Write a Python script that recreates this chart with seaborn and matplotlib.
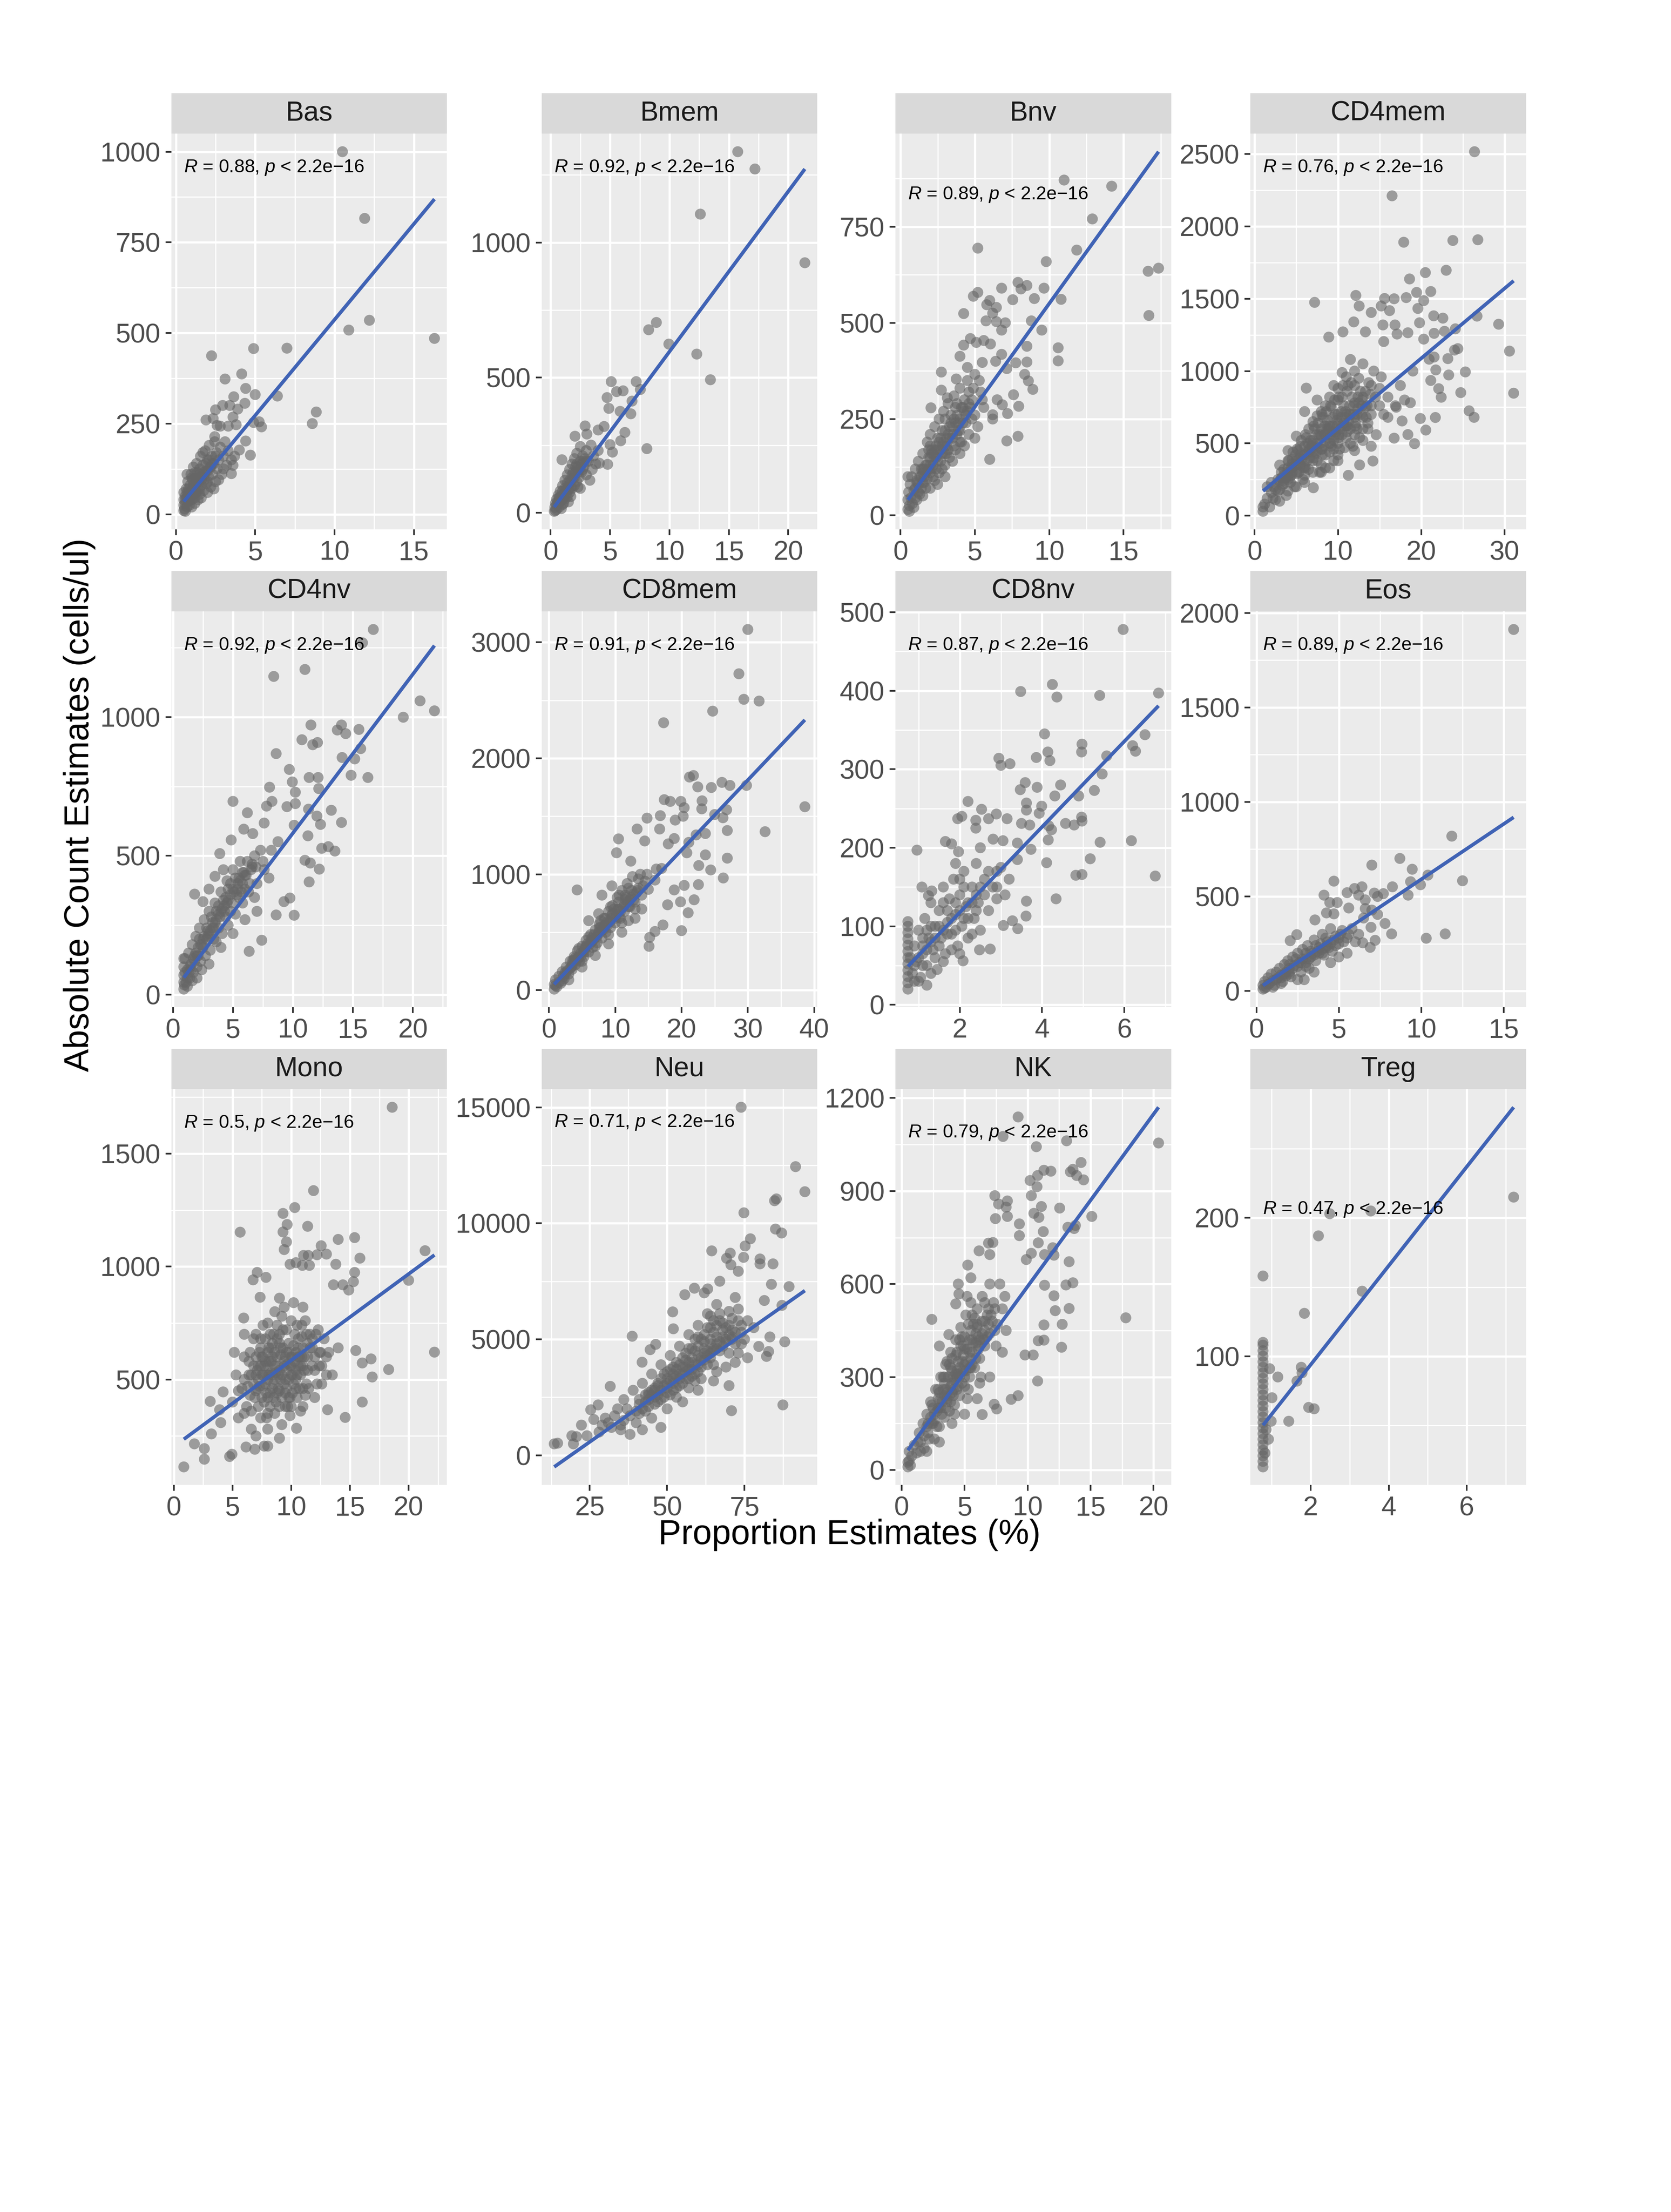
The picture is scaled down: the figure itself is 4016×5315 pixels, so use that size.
import matplotlib
matplotlib.use("Agg")
import matplotlib.pyplot as plt
import seaborn as sns
import numpy as np
import pandas as pd

# facet order
cell_types = ["Bas", "Bmem", "Bnv", "CD4mem", "CD4nv", "CD8mem", "CD8nv", "Eos",
              "Mono", "Neu", "NK", "Treg"]
r_values = ["0.88", "0.92", "0.89", "0.76", "0.92", "0.91", "0.87", "0.89",
            "0.5", "0.71", "0.79", "0.47"]
# blue regression lines: count = intercept + slope * prop
fit_intercept = [8.6, 3.0, 13.0, 122.0, 10.0, 3.0, 8.6, 6.0, 203.0, -1769.0, 36.0, 22.2]
fit_slope = [52.8, 59.3, 53.7, 48.3, 57.2, 60.3, 54.5, 58.5, 38.2, 93.8, 55.6, 35.8]

x_breaks = {
    "Bas": [0, 5, 10, 15], "Bmem": [0, 5, 10, 15, 20], "Bnv": [0, 5, 10, 15],
    "CD4mem": [0, 10, 20, 30], "CD4nv": [0, 5, 10, 15, 20], "CD8mem": [0, 10, 20, 30, 40],
    "CD8nv": [2, 4, 6], "Eos": [0, 5, 10, 15], "Mono": [0, 5, 10, 15, 20],
    "Neu": [25, 50, 75], "NK": [0, 5, 10, 15, 20], "Treg": [2, 4, 6],
}
y_breaks = {
    "Bas": [0, 250, 500, 750, 1000], "Bmem": [0, 500, 1000], "Bnv": [0, 250, 500, 750],
    "CD4mem": [0, 500, 1000, 1500, 2000, 2500], "CD4nv": [0, 500, 1000],
    "CD8mem": [0, 1000, 2000, 3000], "CD8nv": [0, 100, 200, 300, 400, 500],
    "Eos": [0, 500, 1000, 1500, 2000], "Mono": [500, 1000, 1500],
    "Neu": [0, 5000, 10000, 15000], "NK": [0, 300, 600, 900, 1200], "Treg": [100, 200],
}

# (proportion %, absolute count) per cell type
bas = [(10.5, 1000), (11.9, 816), (12.2, 535), (10.9, 508), (16.3, 485), (4.9, 457), (7.0, 458),
       (2.25, 437), (4.15, 387), (3.1, 373), (4.4, 347), (5.0, 330), (6.4, 326), (3.65, 324),
       (8.85, 282), (8.6, 250), (2.95, 300), (3.4, 300), (2.5, 288), (3.9, 290), (4.35, 306),
       (3.6, 268), (1.9, 260), (2.35, 264), (2.6, 245), (2.8, 243), (3.3, 243), (3.8, 247),
       (4.9, 253), (5.25, 255), (5.4, 241), (4.4, 202), (4.0, 177), (4.7, 163), (3.6, 135),
       (3.5, 112), (2.45, 214), (1.7, 170),
       (0.5, 10), (0.5, 25), (0.5, 40), (0.5, 60), (0.55, 15), (0.6, 30), (0.6, 50), (0.65, 70),
       (0.7, 20), (0.7, 45), (0.75, 90), (0.8, 35), (0.8, 60), (0.85, 25), (0.9, 50), (0.9, 80),
       (0.95, 110), (1.0, 40), (1.0, 65), (1.05, 95), (1.1, 55), (1.1, 130), (1.15, 75),
       (1.2, 45), (1.2, 100), (1.25, 60), (1.3, 85), (1.3, 140), (1.35, 115), (1.4, 70),
       (1.45, 95), (1.5, 55), (1.5, 125), (1.55, 160), (1.6, 80), (1.65, 105), (1.7, 135),
       (1.75, 65), (1.8, 95), (1.85, 175), (1.9, 120), (1.95, 85), (2.0, 150), (2.05, 105),
       (2.1, 190), (2.15, 130), (2.2, 75), (2.25, 160), (2.3, 110), (2.4, 140), (2.45, 200),
       (2.5, 90), (2.55, 170), (2.6, 125), (2.7, 150), (2.8, 185), (2.9, 110), (3.0, 160),
       (3.1, 200), (3.2, 135), (3.3, 175), (3.5, 150), (3.7, 160), (2.0, 60), (1.4, 40),
       (0.6, 8), (1.0, 20), (0.7, 110), (1.2, 30), (1.6, 45), (2.4, 70), (2.7, 95), (3.0, 125),
       (0.8, 50), (1.0, 55), (1.2, 70), (1.4, 90), (1.6, 95), (1.8, 110), (2.0, 120), (2.2, 130),
       (0.9, 40), (1.3, 60),
       (0.6, 40), (0.8, 70), (1.1, 80), (1.3, 100), (1.5, 110), (1.7, 115), (1.9, 140),
       (2.1, 150), (2.3, 140), (2.5, 160), (1.0, 100), (1.5, 70), (2.0, 90), (0.7, 60),
       (1.2, 115)]

bmem = [(15.75, 1336), (17.2, 1272), (12.6, 1105), (21.4, 925), (8.9, 704), (8.25, 677),
        (9.95, 624), (12.3, 587), (13.45, 492), (5.1, 485), (7.2, 485), (5.55, 448), (6.1, 451),
        (7.55, 456), (4.75, 426), (6.85, 413), (4.9, 386), (5.85, 375), (6.75, 366), (8.1, 237),
        (6.25, 297), (5.9, 266), (2.9, 321), (2.05, 283), (4.0, 306), (4.5, 319), (3.05, 291),
        (5.0, 252), (5.2, 224), (0.95, 196), (4.1, 183), (4.8, 179),
        (0.3, 5), (0.35, 20), (0.4, 35), (0.5, 12), (0.5, 50), (0.6, 30), (0.65, 65), (0.7, 20),
        (0.8, 45), (0.8, 80), (0.9, 60), (1.0, 30), (1.0, 100), (1.1, 70), (1.2, 50), (1.2, 120),
        (1.3, 85), (1.4, 60), (1.4, 140), (1.5, 100), (1.6, 75), (1.6, 160), (1.7, 115),
        (1.8, 90), (1.8, 180), (1.9, 130), (2.0, 100), (2.0, 200), (2.1, 150), (2.2, 115),
        (2.2, 220), (2.3, 170), (2.4, 130), (2.5, 190), (2.5, 245), (2.6, 150), (2.7, 210),
        (2.8, 170), (3.0, 230), (3.0, 140), (3.2, 190), (3.4, 250), (3.5, 160), (3.6, 210),
        (3.8, 180), (4.0, 230), (1.5, 40), (2.5, 90), (0.9, 15), (3.3, 120), (0.4, 8),
        (0.7, 40), (1.1, 35), (1.7, 60), (2.9, 200), (2.3, 95),
        (0.6, 40), (0.9, 45), (1.1, 55), (1.3, 70), (1.5, 85), (1.7, 95), (2.0, 130),
        (2.4, 160), (2.8, 190), (1.0, 60),
        (0.5, 30), (0.8, 60), (1.2, 90), (1.4, 110), (1.6, 120), (1.9, 150), (2.1, 170),
        (2.3, 150), (2.6, 180), (3.0, 190), (1.8, 140), (2.2, 180), (1.0, 80), (0.7, 55),
        (2.7, 160)]

bnv = [(11.0, 871), (14.2, 855), (12.9, 770), (5.2, 694), (11.85, 689), (9.8, 659), (16.65, 634),
       (17.35, 642), (16.7, 519), (7.9, 605), (8.5, 597), (8.1, 588), (9.65, 590), (6.8, 590),
       (4.9, 569), (5.2, 579), (7.55, 560), (9.0, 563), (10.8, 561), (6.0, 558), (5.8, 547),
       (4.25, 524), (6.2, 525), (6.45, 540), (5.75, 505), (6.45, 503), (7.05, 500), (8.8, 505),
       (6.8, 481), (9.5, 481), (4.7, 459), (5.1, 449), (5.6, 454), (6.05, 445), (8.5, 439),
       (10.6, 435), (10.6, 401), (4.25, 442), (4.0, 413), (5.5, 397), (6.4, 400), (6.8, 418),
       (7.75, 396), (8.5, 398), (8.35, 366), (8.6, 349), (8.9, 327), (7.15, 381), (2.75, 372),
       (3.75, 354), (4.5, 384), (5.0, 366), (2.75, 325), (7.6, 313), (6.85, 287), (7.95, 283),
       (7.2, 264), (6.2, 261), (7.9, 205), (7.15, 193), (6.0, 145), (3.15, 305), (2.05, 279),
       (0.5, 100),
       (0.5, 15), (0.5, 40), (0.55, 60), (0.6, 25), (0.65, 80), (0.7, 45), (0.75, 100), (0.8, 30),
       (0.9, 65), (1.0, 120), (1.0, 45), (1.1, 85), (1.2, 60), (1.2, 140), (1.3, 100), (1.4, 70),
       (1.5, 160), (1.5, 110), (1.6, 85), (1.7, 130), (1.8, 190), (1.8, 95), (1.9, 150),
       (2.0, 110), (2.0, 210), (2.1, 170), (2.2, 130), (2.3, 230), (2.3, 90), (2.4, 180),
       (2.5, 140), (2.6, 250), (2.6, 110), (2.7, 200), (2.8, 160), (2.9, 270), (3.0, 130),
       (3.0, 220), (3.1, 180), (3.2, 290), (3.3, 150), (3.4, 240), (3.5, 200), (3.6, 310),
       (3.7, 170), (3.8, 260), (3.9, 220), (4.0, 330), (4.1, 190), (4.2, 280), (4.4, 240),
       (4.5, 350), (4.6, 210), (4.8, 300), (5.0, 260), (5.2, 230), (5.4, 320), (5.6, 280),
       (2.0, 70), (3.0, 100), (4.0, 160), (5.0, 200), (1.5, 50), (2.5, 80), (6.2, 250),
       (6.5, 300), (1.1, 40), (1.3, 55), (1.7, 70), (2.2, 100), (2.8, 120), (3.5, 140),
       (4.3, 180), (0.6, 10), (0.9, 20), (1.6, 120), (2.4, 150), (3.2, 170), (4.6, 290),
       (5.3, 350), (3.7, 280),
       (1.0, 70), (1.5, 85), (2.0, 130), (2.5, 170), (3.0, 180), (3.5, 230), (4.0, 250),
       (4.5, 270), (2.8, 220), (3.3, 200), (3.8, 210), (4.3, 300), (1.8, 130), (2.3, 150),
       (2.7, 140), (3.6, 250), (4.9, 330), (5.5, 300), (1.4, 100), (2.1, 120),
       (1.2, 80), (1.6, 100), (2.0, 150), (2.4, 120), (2.8, 180), (3.2, 210), (3.6, 180),
       (4.0, 220), (4.4, 260), (4.8, 250), (1.9, 170), (2.6, 190), (3.4, 260), (4.2, 240),
       (3.0, 250), (3.8, 290), (4.6, 320), (2.2, 160), (1.4, 120), (3.1, 160),
       (1.1, 90), (1.5, 120), (1.9, 120), (2.3, 170), (2.7, 170), (3.1, 200), (3.5, 210),
       (3.9, 240), (4.3, 270), (4.7, 280), (1.7, 110), (2.1, 160), (2.5, 200), (2.9, 190),
       (3.3, 230), (3.7, 240), (4.1, 280), (2.0, 180), (3.0, 160), (4.0, 190)]

cd4mem = [(26.4, 2517), (16.5, 2212), (17.9, 1891), (23.8, 1903), (26.8, 1908), (23.0, 1697),
          (20.5, 1681), (18.6, 1637), (19.45, 1544), (21.15, 1550), (20.3, 1487), (18.2, 1508),
          (12.15, 1523), (7.2, 1475), (15.6, 1502), (16.75, 1500), (12.55, 1450), (15.2, 1450),
          (16.2, 1418), (14.0, 1405), (19.6, 1433), (21.5, 1382), (22.6, 1366), (26.7, 1380),
          (29.3, 1324), (19.8, 1334), (15.4, 1319), (16.85, 1319), (11.9, 1340), (24.1, 1292),
          (22.8, 1275), (10.6, 1271), (13.3, 1271), (17.1, 1256), (18.4, 1265), (21.55, 1261),
          (8.9, 1235), (20.3, 1221), (15.5, 1204), (30.6, 1138), (24.4, 1155), (24.0, 1145),
          (20.95, 1082), (21.55, 1097), (23.2, 1086), (21.75, 1008), (25.3, 994), (23.3, 973),
          (21.15, 935), (31.1, 847), (24.75, 851), (22.1, 878), (22.4, 819), (25.75, 725),
          (26.35, 680), (21.7, 679), (20.55, 592), (19.2, 498), (18.4, 561), (17.7, 655),
          (16.75, 536), (14.2, 378), (12.6, 351), (11.25, 279), (7.05, 193), (16.9, 760),
          (18.7, 781), (19.9, 672), (6.2, 882),
          (1.0, 30), (1.0, 60), (1.2, 80), (1.5, 120), (1.8, 60), (2.0, 160), (2.3, 200),
          (2.5, 110), (2.8, 250), (3.0, 180), (3.2, 300), (3.5, 220), (3.8, 140), (4.0, 330),
          (4.2, 260), (4.5, 390), (4.8, 200), (5.0, 300), (5.2, 450), (5.5, 350), (5.8, 250),
          (6.0, 420), (6.2, 540), (6.5, 320), (6.8, 480), (7.0, 380), (7.2, 600), (7.5, 450),
          (7.8, 300), (8.0, 550), (8.2, 680), (8.5, 420), (8.8, 620), (9.0, 500), (9.2, 750),
          (9.5, 380), (9.8, 580), (10.0, 700), (10.2, 460), (10.5, 820), (10.8, 620), (11.0, 540),
          (11.2, 900), (11.5, 700), (11.8, 480), (12.0, 780), (12.3, 600), (12.5, 950),
          (12.8, 700), (13.0, 520), (13.3, 860), (13.6, 640), (14.0, 760), (14.3, 1000),
          (14.6, 560), (15.0, 880), (15.5, 700), (16.0, 820), (6.0, 230), (8.0, 300), (10.0, 380),
          (4.0, 170), (3.0, 100), (12.0, 450), (14.0, 480),
          (2.5, 180), (3.0, 240), (3.5, 280), (4.0, 250), (4.5, 300), (5.0, 380), (5.5, 420),
          (6.0, 340), (6.5, 460), (7.0, 520), (7.5, 380), (8.0, 460), (8.5, 560), (9.0, 620),
          (9.5, 520), (10.0, 640), (10.5, 560), (11.0, 700), (11.5, 600), (12.0, 680),
          (12.5, 780), (13.0, 680), (13.5, 760), (14.0, 900), (7.0, 650), (8.0, 720), (9.0, 820),
          (10.0, 880), (11.0, 960), (12.0, 1000), (13.0, 1050), (6.0, 720), (5.0, 550),
          (4.0, 450), (3.0, 350), (9.0, 440), (10.0, 500), (11.0, 620), (12.0, 560), (13.0, 820),
          (14.0, 700), (15.0, 760), (16.0, 680), (17.0, 750), (17.5, 900), (18.0, 800),
          (19.0, 1000), (8.5, 760), (9.5, 900), (10.5, 990), (11.5, 1080), (7.5, 800), (6.5, 600),
          (5.5, 480), (4.5, 360), (3.5, 320), (2.0, 230), (1.5, 200), (8.0, 350), (9.0, 330),
          (2.2, 120), (2.8, 170), (3.3, 210), (3.7, 260), (4.3, 230), (4.7, 340), (5.3, 300),
          (5.7, 390), (6.3, 380), (6.7, 520), (7.3, 430), (7.7, 560), (8.3, 480), (8.7, 660),
          (9.3, 580), (9.7, 700), (10.3, 600), (10.7, 760), (11.3, 650), (11.7, 820), (12.3, 700),
          (12.7, 860), (13.3, 750), (13.7, 920), (14.5, 820), (15.2, 960), (7.0, 300), (8.5, 330),
          (10.0, 420), (11.5, 500), (13.0, 600), (5.0, 200), (6.0, 280), (9.5, 460), (12.0, 900),
          (10.0, 800), (8.0, 600), (6.0, 480), (4.0, 380), (7.5, 690),
          (3.2, 260), (3.9, 300), (4.4, 280), (4.9, 420), (5.4, 360), (5.9, 330), (6.4, 500),
          (6.9, 440), (7.4, 560), (7.9, 500), (8.4, 620), (8.9, 540), (9.4, 680), (9.9, 620),
          (10.4, 720), (10.9, 680), (11.4, 760), (11.9, 700), (12.4, 820), (12.9, 760),
          (13.4, 680), (13.9, 840), (6.6, 400), (7.1, 470), (8.1, 420), (9.1, 560), (10.1, 560),
          (11.1, 580), (12.1, 640), (9.6, 800), (8.6, 720), (7.6, 640), (10.6, 900), (11.6, 920),
          (5.6, 520), (4.6, 440), (12.6, 540), (13.6, 600), (9.2, 480), (10.8, 470),
          (3.4, 240), (3.9, 270), (4.4, 330), (4.9, 350), (5.4, 400), (5.9, 420), (6.4, 440),
          (6.9, 500), (7.4, 500), (7.9, 560), (8.4, 560), (8.9, 600), (9.4, 620), (9.9, 660),
          (10.4, 680), (10.9, 720), (11.4, 700), (11.9, 760), (12.4, 740), (12.9, 800),
          (4.1, 380), (5.1, 460), (6.1, 560), (7.1, 620), (8.1, 700), (9.1, 760), (10.1, 820),
          (11.1, 860), (5.1, 290), (6.1, 330), (7.1, 400), (8.1, 460), (9.1, 500), (10.1, 540),
          (11.1, 620), (12.1, 620), (6.7, 460), (8.7, 600), (10.7, 640), (9.7, 560)]

cd4nv = [(16.7, 1315), (15.8, 1267), (11.0, 1171), (8.4, 1146), (20.6, 1058), (21.8, 1022),
         (19.2, 999), (11.5, 971), (14.05, 971), (13.7, 953), (14.4, 940), (15.5, 955),
         (10.75, 918), (11.65, 900), (12.05, 908), (15.65, 886), (8.6, 868), (14.1, 854),
         (15.15, 849), (9.7, 811), (14.85, 790), (16.25, 782), (11.35, 782), (12.1, 782),
         (9.95, 766), (8.05, 747), (12.15, 742), (10.2, 729), (5.0, 696), (8.25, 696), (7.8, 679),
         (9.5, 677), (10.2, 688), (11.3, 668), (13.2, 664), (6.2, 655), (12.0, 643), (14.05, 620),
         (12.3, 613), (7.6, 618), (10.1, 610), (5.9, 596), (6.65, 580), (4.85, 557), (8.75, 551),
         (11.25, 572), (12.4, 527), (12.95, 533), (13.5, 517), (3.9, 508), (11.0, 484),
         (11.45, 474), (12.2, 452), (11.35, 406), (9.75, 348), (9.25, 335), (10.1, 286),
         (8.6, 287), (7.4, 196), (6.35, 156), (1.8, 362), (2.5, 335), (3.5, 426),
         (0.9, 20), (0.9, 45), (0.9, 70), (0.9, 100), (0.9, 130), (0.95, 35), (1.0, 80),
         (1.0, 130), (1.1, 45), (1.2, 90), (1.3, 150), (1.4, 60), (1.5, 110), (1.6, 180),
         (1.7, 80), (1.8, 140), (1.9, 210), (2.0, 100), (2.1, 170), (2.2, 240), (2.3, 120),
         (2.5, 200), (2.6, 270), (2.7, 140), (2.9, 230), (3.0, 300), (3.1, 160), (3.3, 260),
         (3.5, 330), (3.6, 190), (3.8, 290), (4.0, 370), (4.1, 220), (4.3, 320), (4.5, 410),
         (4.6, 250), (4.8, 360), (5.0, 450), (5.2, 290), (5.4, 400), (5.6, 480), (5.8, 330),
         (6.0, 430), (6.3, 370), (6.6, 470), (7.0, 400), (7.3, 520), (7.6, 450), (8.0, 420),
         (2.0, 60), (3.0, 110), (4.0, 170), (5.0, 220), (6.0, 270), (1.2, 30), (1.6, 50),
         (2.4, 90), (3.4, 200), (4.4, 280), (5.5, 350), (6.8, 350), (7.0, 300), (4.2, 450),
         (3.0, 380),
         (1.5, 90), (2.0, 140), (2.5, 170), (3.0, 220), (3.5, 260), (4.0, 300), (4.5, 330),
         (5.0, 380), (5.5, 420), (6.0, 380), (6.5, 450), (1.2, 60), (1.8, 120), (2.8, 200),
         (3.8, 240), (4.8, 300), (5.8, 400), (6.8, 500), (7.5, 480), (8.2, 520),
         (1.4, 100), (1.9, 150), (2.4, 180), (2.9, 210), (3.4, 240), (3.9, 280), (4.4, 350),
         (4.9, 330), (5.4, 380), (5.9, 440), (6.4, 400), (6.9, 460), (2.2, 200), (3.2, 280),
         (4.2, 340), (5.2, 420), (6.2, 480), (3.6, 300), (4.6, 380), (5.7, 370),
         (1.3, 80), (1.7, 130), (2.1, 140), (2.6, 210), (3.1, 230), (3.6, 270), (4.1, 310),
         (4.6, 340), (5.1, 370), (5.6, 410), (6.1, 430), (6.6, 460), (2.3, 180), (3.3, 240),
         (4.3, 300), (5.3, 360), (2.8, 240), (3.8, 320), (4.8, 400), (5.8, 440)]

cd8mem = [(30.0, 3110), (28.65, 2728), (29.4, 2508), (31.7, 2493), (24.7, 2406), (17.3, 2306),
          (21.2, 1838), (21.8, 1851), (22.45, 1753), (24.5, 1748), (26.1, 1792), (27.3, 1766),
          (29.8, 1766), (38.6, 1582), (17.4, 1643), (18.3, 1628), (19.9, 1628), (20.4, 1574),
          (23.1, 1633), (23.05, 1564), (26.8, 1556), (25.0, 1515), (26.25, 1487), (14.8, 1484),
          (16.8, 1505), (19.05, 1467), (20.25, 1500), (32.6, 1367), (26.9, 1377), (23.6, 1351),
          (22.2, 1339), (13.3, 1390), (16.7, 1390), (18.9, 1308), (10.5, 1305), (14.45, 1287),
          (21.1, 1275), (26.9, 1139), (23.6, 1167), (20.8, 1185), (22.6, 1075), (24.4, 1037),
          (26.3, 968), (22.55, 911), (20.4, 904), (18.9, 865), (21.9, 780), (19.85, 762),
          (21.0, 668), (20.0, 514), (17.2, 563), (16.0, 507), (15.2, 456), (15.1, 379),
          (4.25, 865), (10.2, 1185), (12.35, 1113), (18.0, 1262), (16.2, 1045), (17.9, 737),
          (0.8, 10), (0.8, 50), (1.0, 90), (1.2, 30), (1.5, 120), (1.8, 60), (2.0, 160),
          (2.3, 100), (2.6, 200), (3.0, 140), (3.2, 250), (3.5, 180), (3.8, 290), (4.0, 220),
          (4.3, 340), (4.6, 250), (5.0, 380), (5.3, 290), (5.6, 430), (6.0, 330), (6.3, 480),
          (6.6, 370), (7.0, 520), (7.3, 410), (7.6, 570), (8.0, 450), (8.3, 620), (8.6, 500),
          (9.0, 680), (9.3, 540), (9.6, 730), (10.0, 580), (10.3, 800), (10.6, 630), (11.0, 860),
          (11.4, 680), (11.8, 920), (12.2, 720), (12.6, 980), (13.0, 760), (13.5, 880),
          (14.0, 820), (14.5, 940), (15.0, 870), (3.0, 90), (5.0, 200), (7.0, 300), (9.0, 400),
          (11.0, 500), (13.0, 620), (6.0, 600), (8.0, 820), (2.0, 80), (4.0, 280), (6.5, 420),
          (8.5, 560), (10.5, 700), (12.0, 600), (14.0, 700), (9.5, 900), (11.5, 780),
          (7.5, 660), (5.5, 330), (3.5, 230), (1.0, 40), (16.0, 950), (17.0, 1050),
          (1.5, 70), (2.5, 140), (3.5, 210), (4.5, 290), (5.5, 370), (6.5, 450), (7.5, 500),
          (8.5, 620), (9.5, 650), (10.5, 760), (11.5, 820), (12.5, 860), (13.5, 960), (2.8, 170),
          (4.8, 320), (6.8, 480), (8.8, 590), (10.8, 680), (12.8, 830), (14.8, 1000), (3.8, 260),
          (5.8, 400), (7.8, 540), (9.8, 700), (11.8, 760),
          (2.2, 120), (3.2, 190), (4.2, 260), (5.2, 330), (6.2, 400), (7.2, 460), (8.2, 520),
          (9.2, 590), (10.2, 650), (11.2, 720), (12.2, 780), (13.2, 840), (14.2, 900), (4.5, 360),
          (6.0, 460), (7.8, 600), (9.3, 720), (10.6, 820), (12.0, 880), (13.8, 1000), (5.0, 250),
          (7.0, 380), (9.0, 480), (11.0, 580), (13.0, 700),
          (2.4, 150), (3.4, 200), (4.4, 280), (5.4, 350), (6.4, 430), (7.4, 480), (8.4, 560),
          (9.4, 620), (10.4, 700), (11.4, 740), (12.4, 800), (13.4, 860), (3.6, 260), (5.6, 380),
          (7.6, 540), (9.6, 660), (11.6, 800), (4.8, 290), (6.8, 440), (8.8, 560), (10.8, 620),
          (12.8, 780), (8.0, 520), (10.0, 620), (12.0, 720)]

cd8nv = [(5.97, 478), (4.25, 408), (3.48, 399), (4.36, 392), (5.4, 394), (6.83, 397), (4.06, 345),
         (6.5, 344), (4.97, 332), (4.96, 322), (4.14, 322), (4.19, 311), (6.2, 330), (6.27, 323),
         (5.57, 317), (2.95, 314), (3.0, 305), (3.22, 307), (3.86, 315), (5.46, 294), (3.59, 283),
         (3.47, 274), (3.88, 277), (4.45, 280), (5.27, 273), (4.31, 266), (4.89, 266), (2.2, 259),
         (3.62, 257), (3.62, 248), (3.99, 253), (3.93, 244), (2.53, 249), (2.89, 243),
         (1.95, 237), (2.05, 240), (2.39, 235), (2.7, 237), (3.15, 237), (3.5, 231), (3.7, 229),
         (4.96, 239), (4.97, 234), (4.57, 231), (4.78, 229), (4.16, 228), (4.23, 223),
         (2.39, 225), (1.65, 208), (1.8, 205), (1.97, 195), (0.96, 197), (4.15, 210),
         (5.41, 207), (6.17, 209), (2.81, 211), (3.05, 209), (3.4, 206), (3.73, 198),
         (4.11, 181), (5.17, 186), (4.82, 165), (4.97, 166), (6.75, 164), (4.34, 135),
         (3.62, 132), (3.61, 113), (3.28, 107), (3.41, 97), (3.06, 101), (2.74, 71), (2.48, 70),
         (2.08, 56), (1.08, 150), (1.24, 139), (1.32, 145),
         (0.74, 20), (0.74, 28), (0.74, 36), (0.74, 44), (0.74, 52), (0.74, 60), (0.74, 68),
         (0.74, 76), (0.74, 84), (0.74, 92), (0.74, 100), (0.74, 106),
         (0.85, 40), (0.9, 75), (0.95, 55), (1.0, 95), (1.05, 35), (1.1, 65), (1.15, 110),
         (1.2, 50), (1.25, 85), (1.3, 130), (1.35, 70), (1.4, 100), (1.45, 45), (1.5, 120),
         (1.55, 85), (1.6, 150), (1.65, 65), (1.7, 105), (1.75, 135), (1.8, 90), (1.85, 160),
         (1.9, 115), (1.95, 75), (2.0, 140), (2.05, 100), (2.1, 170), (2.15, 125), (2.2, 85),
         (2.3, 150), (2.35, 110), (2.4, 180), (2.45, 130), (2.5, 95), (2.6, 160), (2.7, 120),
         (2.8, 150), (2.9, 135), (3.0, 175), (3.2, 160), (3.4, 185), (1.0, 30), (1.3, 40),
         (1.6, 55), (2.0, 65), (1.2, 25), (0.8, 60), (0.9, 30), (1.1, 85), (1.4, 60), (1.8, 70),
         (2.2, 110), (2.6, 140), (1.9, 180), (2.5, 200), (2.9, 170), (3.1, 140),
         (1.0, 60), (1.2, 70), (1.4, 85), (1.6, 95), (1.8, 110), (2.0, 120), (2.2, 130),
         (2.4, 140), (1.1, 50), (1.3, 100), (1.5, 75), (1.7, 120), (1.9, 95), (2.1, 150),
         (2.3, 90),
         (0.9, 50), (1.1, 75), (1.3, 80), (1.5, 100), (1.7, 90), (1.9, 130), (2.1, 110),
         (2.3, 130), (2.5, 150), (2.7, 170), (2.9, 150), (1.6, 130), (2.4, 120), (1.2, 95),
         (2.0, 160)]

eos = [(15.6, 1912), (11.85, 819), (8.7, 701), (7.0, 666), (9.45, 644), (10.4, 613), (12.5, 583),
       (4.7, 581), (9.35, 578), (9.95, 562), (9.2, 507), (8.25, 551), (6.4, 551), (5.95, 542),
       (5.5, 520), (4.1, 507), (6.2, 507), (7.15, 518), (7.7, 515), (7.35, 500), (6.6, 482),
       (4.45, 468), (4.9, 468), (4.25, 413), (4.7, 408), (5.6, 439), (6.6, 436), (6.5, 386),
       (7.0, 428), (7.35, 405), (7.8, 357), (6.95, 337), (8.2, 302), (10.3, 279), (11.45, 302),
       (7.2, 268), (6.9, 231), (6.45, 255), (3.55, 376), (2.45, 298), (2.05, 266),
       (0.4, 10), (0.4, 30), (0.5, 50), (0.6, 20), (0.7, 70), (0.8, 40), (0.9, 90), (1.0, 55),
       (1.1, 30), (1.2, 100), (1.3, 70), (1.4, 120), (1.5, 85), (1.6, 50), (1.7, 140),
       (1.8, 100), (1.9, 160), (2.0, 120), (2.1, 75), (2.2, 180), (2.3, 135), (2.5, 200),
       (2.6, 150), (2.7, 100), (2.8, 220), (3.0, 170), (3.1, 240), (3.2, 120), (3.4, 200),
       (3.5, 270), (3.6, 160), (3.8, 230), (4.0, 300), (4.1, 190), (4.3, 260), (4.5, 330),
       (4.6, 210), (4.8, 290), (5.0, 250), (5.2, 320), (5.5, 280), (5.8, 330), (6.0, 260),
       (3.5, 100), (4.5, 150), (2.5, 60), (5.5, 200), (6.2, 300), (0.5, 15), (0.7, 35),
       (1.0, 20), (1.5, 40), (2.0, 90), (3.0, 130), (4.0, 200), (5.0, 180), (2.9, 60),
       (3.9, 250), (4.4, 230), (3.3, 210),
       (1.5, 70), (2.0, 100), (2.5, 130), (3.0, 150), (3.5, 190), (4.0, 220), (4.5, 250),
       (5.0, 280), (2.8, 170), (3.3, 180), (3.8, 200), (4.3, 240), (4.8, 240), (5.3, 260),
       (1.8, 80),
       (1.2, 60), (1.7, 90), (2.2, 120), (2.7, 150), (3.2, 170), (3.7, 210), (4.2, 230),
       (4.7, 270), (2.4, 170), (3.6, 240), (4.2, 280), (5.1, 300), (5.6, 300), (3.0, 200),
       (2.0, 140)]

mono = [(18.6, 1705), (0.85, 113), (11.9, 1336), (10.3, 1261), (9.3, 1235), (9.65, 1186),
        (11.4, 1178), (5.65, 1152), (9.3, 1153), (15.4, 1128), (14.0, 1120), (9.6, 1109),
        (21.4, 1070), (9.4, 1075), (12.55, 1092), (13.0, 1055), (15.85, 1037), (11.05, 1049),
        (11.45, 1049), (12.2, 1052), (9.9, 1010), (10.4, 1017), (13.8, 1010), (10.95, 1005),
        (11.55, 1005), (7.1, 974), (15.4, 974), (20.0, 939), (6.75, 941), (7.85, 952),
        (13.6, 919), (14.4, 919), (15.3, 933), (14.9, 896), (22.2, 621), (15.5, 628),
        (16.8, 591), (16.05, 573), (18.3, 544), (16.9, 511), (16.05, 400), (14.6, 332),
        (13.1, 366), (5.95, 772), (7.35, 864), (5.15, 620), (3.1, 403), (1.75, 215), (2.6, 147),
        (4.75, 159), (4.95, 169), (2.6, 194), (3.2, 259), (4.0, 309), (3.9, 366), (4.2, 445),
        (6.9, 191), (7.7, 205), (8.0, 205), (6.15, 201), (10.45, 284),
        (5.0, 400), (5.3, 520), (5.5, 330), (5.8, 460), (6.0, 600), (6.2, 380), (6.4, 520),
        (6.6, 280), (6.8, 680), (7.0, 450), (7.2, 560), (7.4, 330), (7.6, 740), (7.8, 480),
        (8.0, 620), (8.2, 380), (8.4, 520), (8.6, 800), (8.8, 440), (9.0, 660), (9.2, 300),
        (9.4, 560), (9.6, 720), (9.8, 420), (10.0, 600), (10.2, 840), (10.4, 500), (10.6, 680),
        (10.8, 360), (11.0, 560), (11.2, 760), (11.5, 460), (11.8, 640), (12.0, 540),
        (12.3, 720), (12.6, 480), (13.0, 600), (13.5, 520), (14.0, 640), (6.5, 430), (7.5, 600),
        (8.5, 700), (9.5, 500), (10.5, 420), (7.0, 250), (8.0, 280), (9.0, 240), (11.0, 380),
        (12.0, 420), (6.0, 500), (8.0, 420), (9.0, 860),
        (6.0, 350), (6.5, 620), (7.0, 520), (7.2, 380), (7.5, 420), (7.8, 680), (8.0, 500),
        (8.3, 580), (8.6, 350), (8.8, 600), (9.0, 450), (9.2, 780), (9.5, 380), (9.8, 620),
        (10.0, 520), (10.3, 700), (10.6, 560), (11.0, 640), (11.3, 480), (11.6, 700),
        (12.0, 600), (12.4, 560), (12.8, 680), (13.2, 620), (8.0, 750), (9.0, 700), (10.0, 760),
        (11.0, 820), (7.0, 700), (6.0, 700), (5.5, 450), (6.8, 560), (7.6, 520), (8.4, 460),
        (9.2, 520), (10.1, 440), (10.8, 520), (11.4, 600), (12.2, 480), (7.3, 470), (8.7, 530),
        (9.7, 570), (10.4, 620), (8.1, 640), (9.3, 640), (6.3, 470), (7.9, 330), (9.9, 340),
        (11.2, 430), (8.9, 560), (9.6, 460), (10.7, 600), (7.7, 560), (8.6, 620),
        (7.5, 520), (8.0, 560), (8.5, 480), (9.0, 540), (9.5, 600), (10.0, 560), (10.5, 520),
        (9.0, 380), (8.0, 350), (10.0, 380), (11.0, 460), (7.0, 600), (8.5, 420), (9.5, 440),
        (10.5, 740), (8.2, 700), (9.4, 820), (7.4, 640), (6.6, 360), (11.8, 560), (12.5, 620),
        (13.0, 520), (6.9, 420), (10.9, 690), (9.1, 610), (8.3, 530), (9.8, 500), (10.2, 650),
        (7.7, 400), (11.1, 540),
        (7.1, 540), (7.6, 470), (8.1, 520), (8.6, 560), (9.1, 500), (9.6, 540), (10.1, 600),
        (10.6, 640), (11.1, 600), (11.6, 640), (7.3, 620), (7.8, 580), (8.3, 640), (8.8, 680),
        (9.3, 720), (9.8, 660), (10.3, 580), (10.8, 560), (11.3, 700), (11.8, 680), (8.2, 440),
        (8.7, 400), (9.2, 420), (9.7, 380), (10.2, 480), (10.7, 460), (6.8, 480), (7.2, 500),
        (12.1, 700), (12.6, 560),
        (7.4, 560), (7.9, 520), (8.4, 600), (8.9, 520), (9.4, 580), (9.9, 560), (10.4, 540),
        (10.9, 600), (8.1, 580), (8.6, 500), (9.1, 640), (9.6, 620), (10.1, 520), (10.6, 600),
        (7.6, 600), (8.4, 660), (9.4, 480), (10.4, 460), (11.4, 540), (6.6, 520), (7.1, 460),
        (7.9, 440), (8.9, 460), (9.9, 420), (11.4, 660), (10.9, 740), (8.8, 740), (7.4, 680),
        (12.4, 620), (6.4, 580)]

neu = [(73.9, 15000), (91.5, 12440), (94.5, 11360), (84.7, 10970), (85.3, 11050), (74.8, 10450),
       (85.0, 9750), (87.0, 9580), (76.9, 9330), (75.2, 9020), (64.4, 8810), (74.7, 8530),
       (70.4, 8710), (69.2, 8490), (70.6, 8210), (80.0, 8460), (80.0, 8250), (84.2, 8250),
       (73.0, 7930), (89.4, 7270), (83.7, 7370), (81.4, 6670), (87.1, 6460), (83.2, 5100),
       (88.0, 4890), (82.8, 4470), (82.1, 4260), (87.4, 2170), (70.8, 1920), (79.6, 4690),
       (51.8, 6180), (52.0, 5450), (38.7, 5130), (55.7, 6920), (58.8, 7200), (63.1, 7170),
       (31.6, 2970), (27.7, 2170), (25.3, 1960), (22.3, 1300), (19.2, 840), (20.7, 800),
       (19.7, 490), (13.5, 490), (14.6, 520), (24.1, 840), (26.3, 1540), (41.9, 4010),
       (44.5, 4550), (46.3, 4780),
       (28.0, 1000), (30.0, 1600), (32.0, 1200), (34.0, 2000), (35.0, 1300), (36.0, 2400),
       (38.0, 1700), (39.0, 2800), (40.0, 1400), (41.0, 2200), (42.0, 3100), (43.0, 1900),
       (44.0, 2600), (45.0, 3500), (46.0, 2200), (47.0, 3000), (48.0, 3900), (49.0, 2500),
       (50.0, 3300), (51.0, 4300), (52.0, 2800), (53.0, 3700), (54.0, 4700), (55.0, 3100),
       (56.0, 4100), (57.0, 5200), (58.0, 3400), (59.0, 4500), (60.0, 5600), (61.0, 3800),
       (62.0, 4900), (63.0, 6100), (64.0, 4200), (65.0, 5300), (66.0, 6500), (67.0, 4500),
       (68.0, 5700), (69.0, 3800), (70.0, 6200), (71.0, 5000), (72.0, 6800), (73.0, 4400),
       (74.0, 5600), (75.0, 5000), (76.0, 4200), (78.0, 5500), (45.0, 1600), (50.0, 2000),
       (55.0, 2300), (60.0, 2800), (65.0, 3200), (70.0, 3000), (48.0, 1200), (42.0, 1100),
       (38.0, 900), (62.0, 7000), (67.0, 7500),
       (44.0, 2100), (46.0, 2800), (48.0, 2400), (50.0, 2900), (52.0, 3500), (54.0, 3000),
       (56.0, 3600), (58.0, 4200), (60.0, 3900), (62.0, 4400), (64.0, 5000), (66.0, 4600),
       (68.0, 5100), (70.0, 4400), (72.0, 5300), (74.0, 4800), (53.0, 2500), (57.0, 2900),
       (61.0, 3300), (65.0, 3900), (69.0, 4900), (71.0, 5900), (73.0, 6300), (59.0, 5000),
       (63.0, 5500), (55.0, 4200), (51.0, 3700), (47.0, 2600), (43.0, 2300), (40.0, 1900),
       (36.0, 1500), (33.0, 1700), (66.0, 3600), (60.0, 4700), (57.0, 4000), (64.0, 6000),
       (50.0, 3100), (52.0, 3300), (54.0, 3500), (56.0, 3800), (58.0, 4000), (60.0, 4300),
       (62.0, 4600), (64.0, 4800), (66.0, 5100), (68.0, 5400), (70.0, 5600), (53.0, 4000),
       (57.0, 4600), (61.0, 5000), (65.0, 5800), (49.0, 3500), (45.0, 2600), (41.0, 1800),
       (37.0, 2000), (35.0, 1100), (31.0, 1400), (29.0, 1300), (72.0, 4000), (76.0, 5800),
       (67.0, 6100),
       (42.0, 2000), (44.0, 2400), (46.0, 2500), (48.0, 2800), (50.0, 2700), (52.0, 3100),
       (54.0, 3300), (56.0, 3300), (58.0, 3700), (60.0, 3600), (62.0, 4100), (64.0, 4400),
       (66.0, 4800), (68.0, 4700), (70.0, 5200), (72.0, 4800), (74.0, 5300), (53.0, 2900),
       (57.0, 3300), (61.0, 4200), (65.0, 4500), (69.0, 5500), (63.0, 3900), (59.0, 3200),
       (55.0, 3800), (51.0, 2600), (47.0, 2300), (67.0, 5800), (71.0, 5400), (73.0, 5800),
       (41.0, 2400), (43.0, 2600), (45.0, 2800), (47.0, 3100), (49.0, 3000), (51.0, 3200),
       (53.0, 3400), (55.0, 3500), (57.0, 3700), (59.0, 3900), (61.0, 4100), (63.0, 4300),
       (65.0, 4600), (67.0, 4900), (69.0, 5000), (71.0, 5100), (56.0, 4400), (58.0, 4600),
       (60.0, 5100), (62.0, 5200), (64.0, 5500), (66.0, 5600), (54.0, 3900), (52.0, 3800),
       (50.0, 3600), (48.0, 3300), (46.0, 2900), (44.0, 2700), (59.0, 3500), (63.0, 4500)]

nk = [(9.25, 1139), (8.05, 1076), (13.1, 1062), (10.7, 1043), (20.4, 1055), (14.25, 992),
      (13.4, 962), (13.6, 970), (11.3, 967), (11.85, 964), (13.9, 950), (14.45, 936), (10.8, 950),
      (10.2, 934), (10.75, 914), (10.3, 885), (7.4, 885), (7.7, 858), (8.4, 868), (8.3, 848),
      (11.1, 850), (12.55, 845), (10.5, 828), (10.9, 815), (8.4, 818), (7.45, 811), (15.1, 818),
      (9.35, 794), (11.25, 769), (13.2, 783), (13.8, 789), (13.7, 779), (6.9, 732), (7.25, 734),
      (9.35, 756), (10.85, 733), (12.0, 717), (12.1, 693), (11.35, 695), (10.3, 699), (9.9, 679),
      (6.15, 707), (7.0, 695), (5.25, 661), (13.3, 672), (13.05, 597), (13.6, 604), (12.1, 562),
      (11.35, 596), (12.2, 514), (13.3, 521), (17.8, 491), (2.4, 486), (11.3, 468), (12.75, 470),
      (11.3, 419), (10.85, 417), (12.7, 396), (10.45, 371), (9.8, 371), (10.8, 287), (9.25, 240),
      (8.7, 228), (7.35, 212), (7.55, 197), (6.4, 179), (3.75, 437), (4.3, 536), (4.55, 568),
      (0.5, 10), (0.6, 30), (0.6, 60), (0.8, 45), (1.0, 80), (1.2, 55), (1.4, 120), (1.5, 90),
      (1.7, 150), (1.8, 70), (2.0, 180), (2.1, 120), (2.3, 220), (2.4, 150), (2.6, 100),
      (2.7, 260), (2.8, 190), (3.0, 140), (3.1, 300), (3.2, 220), (3.4, 170), (3.5, 340),
      (3.6, 250), (3.8, 190), (3.9, 380), (4.0, 280), (4.2, 210), (4.3, 420), (4.4, 320),
      (4.6, 240), (4.7, 460), (4.8, 350), (5.0, 270), (5.1, 500), (5.2, 390), (5.4, 300),
      (5.5, 540), (5.6, 420), (5.8, 330), (6.0, 460), (6.2, 360), (6.4, 560), (6.6, 400),
      (6.8, 500), (7.0, 440), (7.3, 540), (7.6, 470), (8.0, 520), (8.3, 450), (4.0, 150),
      (5.0, 180), (6.0, 230), (3.0, 90), (2.0, 60), (4.5, 600), (5.5, 620), (3.0, 400),
      (7.0, 300), (8.0, 380),
      (1.5, 60), (2.0, 140), (2.5, 200), (3.0, 250), (3.5, 200), (4.0, 360), (4.5, 270),
      (5.0, 430), (5.5, 360), (6.0, 520), (6.5, 420), (7.0, 600), (3.3, 300), (4.1, 240),
      (4.9, 320), (5.7, 470), (6.3, 300), (2.8, 140), (3.7, 300), (4.4, 380), (5.3, 260),
      (6.1, 390), (7.2, 480), (2.2, 100), (1.3, 90), (3.9, 220), (4.7, 400), (5.9, 440),
      (0.5, 25), (0.7, 15), (5.2, 560), (6.6, 540), (7.8, 600),
      (2.5, 150), (3.0, 200), (3.5, 260), (4.0, 320), (4.5, 350), (5.0, 390), (5.5, 450),
      (6.0, 470), (3.2, 180), (3.8, 240), (4.2, 290), (4.8, 280), (5.4, 330), (6.2, 420),
      (6.8, 430), (7.4, 520), (1.8, 110), (2.3, 170), (2.9, 230), (3.4, 280), (4.6, 420),
      (5.6, 500), (6.6, 480), (7.5, 400), (8.2, 560),
      (2.6, 180), (3.1, 230), (3.6, 220), (4.1, 300), (4.6, 300), (5.1, 350), (5.6, 380),
      (6.1, 430), (6.6, 450), (7.1, 500), (2.9, 260), (3.4, 240), (3.9, 330), (4.4, 260),
      (4.9, 400), (5.4, 420), (5.9, 360), (6.4, 480), (6.9, 520), (7.4, 450), (3.6, 350),
      (4.3, 370), (5.0, 340), (5.7, 410), (4.2, 180), (5.2, 230), (6.2, 280),
      (2.1, 150), (2.6, 160), (3.1, 200), (3.6, 230), (4.1, 260), (4.6, 330), (5.1, 320),
      (5.6, 340), (6.1, 400), (6.6, 420), (2.4, 210), (2.9, 200), (3.4, 300), (3.9, 270),
      (4.4, 300), (4.9, 370), (5.4, 380), (5.9, 410), (6.4, 440), (6.9, 470), (3.3, 260),
      (3.8, 340), (4.3, 310), (4.8, 430), (5.3, 470), (5.8, 490), (4.0, 250), (4.5, 310),
      (5.0, 300), (5.5, 330)]

treg = [(0.78, 20), (0.78, 24), (0.78, 28), (0.78, 32), (0.78, 36), (0.78, 40), (0.78, 44),
        (0.78, 48), (0.78, 52), (0.78, 56), (0.78, 60), (0.78, 64), (0.78, 68), (0.78, 72),
        (0.78, 76), (0.78, 80), (0.78, 84), (0.78, 88), (0.78, 92), (0.78, 96), (0.78, 100),
        (0.78, 104), (0.78, 108), (0.78, 110), (0.78, 158),
        (7.2, 215), (2.49, 203), (3.54, 205), (2.2, 187), (3.32, 147), (1.84, 131), (0.95, 91),
        (1.16, 85), (1.76, 92), (1.78, 88), (1.65, 82), (1.01, 70), (1.95, 63), (2.09, 62),
        (1.44, 53), (0.99, 53), (0.86, 47), (0.92, 40), (0.83, 30)]

panel_points = [bas, bmem, bnv, cd4mem, cd4nv, cd8mem, cd8nv, eos, mono, neu, nk, treg]

rows = []
for cell, pts in zip(cell_types, panel_points):
    for px, py in pts:
        rows.append((cell, px, py))
df = pd.DataFrame(rows, columns=["cell", "prop", "count"])

sns.set_style("darkgrid", {"axes.facecolor": "#EBEBEB", "grid.color": "white"})
plt.rcParams["font.family"] = ["Liberation Sans", "DejaVu Sans"]
plt.rcParams["mathtext.fontset"] = "custom"
plt.rcParams["mathtext.rm"] = "Liberation Sans"
plt.rcParams["mathtext.it"] = "Liberation Sans:italic"

W, H = 1200.0, 1588.0
col_left = [123, 389, 643, 898]
panel_w = 198
strip_top = [67, 410, 753]
plot_top = [96, 439, 782]
plot_bot = [380, 723, 1066]

fig = plt.figure(figsize=(4016 / 472.5, 5315 / 472.5), facecolor="white")

for i, cell in enumerate(cell_types):
    r, c = divmod(i, 4)
    left = col_left[c] / W
    ax = fig.add_axes([left, 1 - plot_bot[r] / H, panel_w / W, (plot_bot[r] - plot_top[r]) / H])
    sub = df[df["cell"] == cell]
    sns.scatterplot(data=sub, x="prop", y="count", ax=ax, color="#666666", alpha=0.6,
                    s=16, edgecolor="none", linewidth=0, zorder=2)
    xs = np.array([sub["prop"].min(), sub["prop"].max()])
    ys = fit_intercept[i] + fit_slope[i] * xs
    ax.plot(xs, ys, color="#4063B5", lw=1.3, zorder=3, solid_capstyle="butt")
    ax.margins(x=0.05, y=0.05)

    xt = x_breaks[cell]
    yt = y_breaks[cell]
    ax.set_xticks(xt)
    ax.set_xticklabels([str(t) for t in xt])
    ax.set_yticks(yt)
    ax.set_yticklabels([str(t) for t in yt])
    dx = xt[1] - xt[0]
    dy = yt[1] - yt[0]
    xl = ax.get_xlim()
    yl = ax.get_ylim()
    ax.set_xticks([t - dx / 2 for t in xt] + [xt[-1] + dx / 2], minor=True)
    ax.set_yticks([t - dy / 2 for t in yt] + [yt[-1] + dy / 2], minor=True)
    ax.set_xlim(xl)
    ax.set_ylim(yl)
    ax.grid(which="major", color="white", lw=0.8)
    ax.grid(which="minor", color="white", lw=0.4)
    ax.set_axisbelow(True)
    ax.tick_params(which="major", length=2.2, width=0.6, color="#333333",
                   labelcolor="#4D4D4D", labelsize=9.9, pad=1.8,
                   bottom=True, left=True)
    ax.tick_params(which="minor", length=0)
    for sp in ax.spines.values():
        sp.set_visible(False)
    ax.set_xlabel("")
    ax.set_ylabel("")

    ymin, ymax = sub["count"].min(), sub["count"].max()
    label = "$\\mathit{R}$ = " + r_values[i] + ", $\\mathit{p}$ < 2.2e\u221216"
    ax.text(sub["prop"].min(), ymax - 0.045 * (ymax - ymin), label, fontsize=6.8,
            ha="left", va="center", color="black", zorder=4)

    # facet strip
    sax = fig.add_axes([left, 1 - plot_top[r] / H, panel_w / W, (plot_top[r] - strip_top[r]) / H])
    sax.set_facecolor("#D9D9D9")
    sax.set_xticks([])
    sax.set_yticks([])
    sax.grid(False)
    for sp in sax.spines.values():
        sp.set_visible(False)
    sax.text(0.5, 0.5, cell, ha="center", va="center", fontsize=10, color="#1A1A1A",
             transform=sax.transAxes)

fig.text(610 / W, 1 - 1102 / H, "Proportion Estimates (%)", ha="center", va="center",
         fontsize=12.6, color="black")
fig.text(57 / W, 1 - 578 / H, "Absolute Count Estimates (cells/ul)", ha="center",
         va="center", rotation=90, fontsize=12.6, color="black")

fig.savefig("out.png", dpi=472.5, facecolor="white")
